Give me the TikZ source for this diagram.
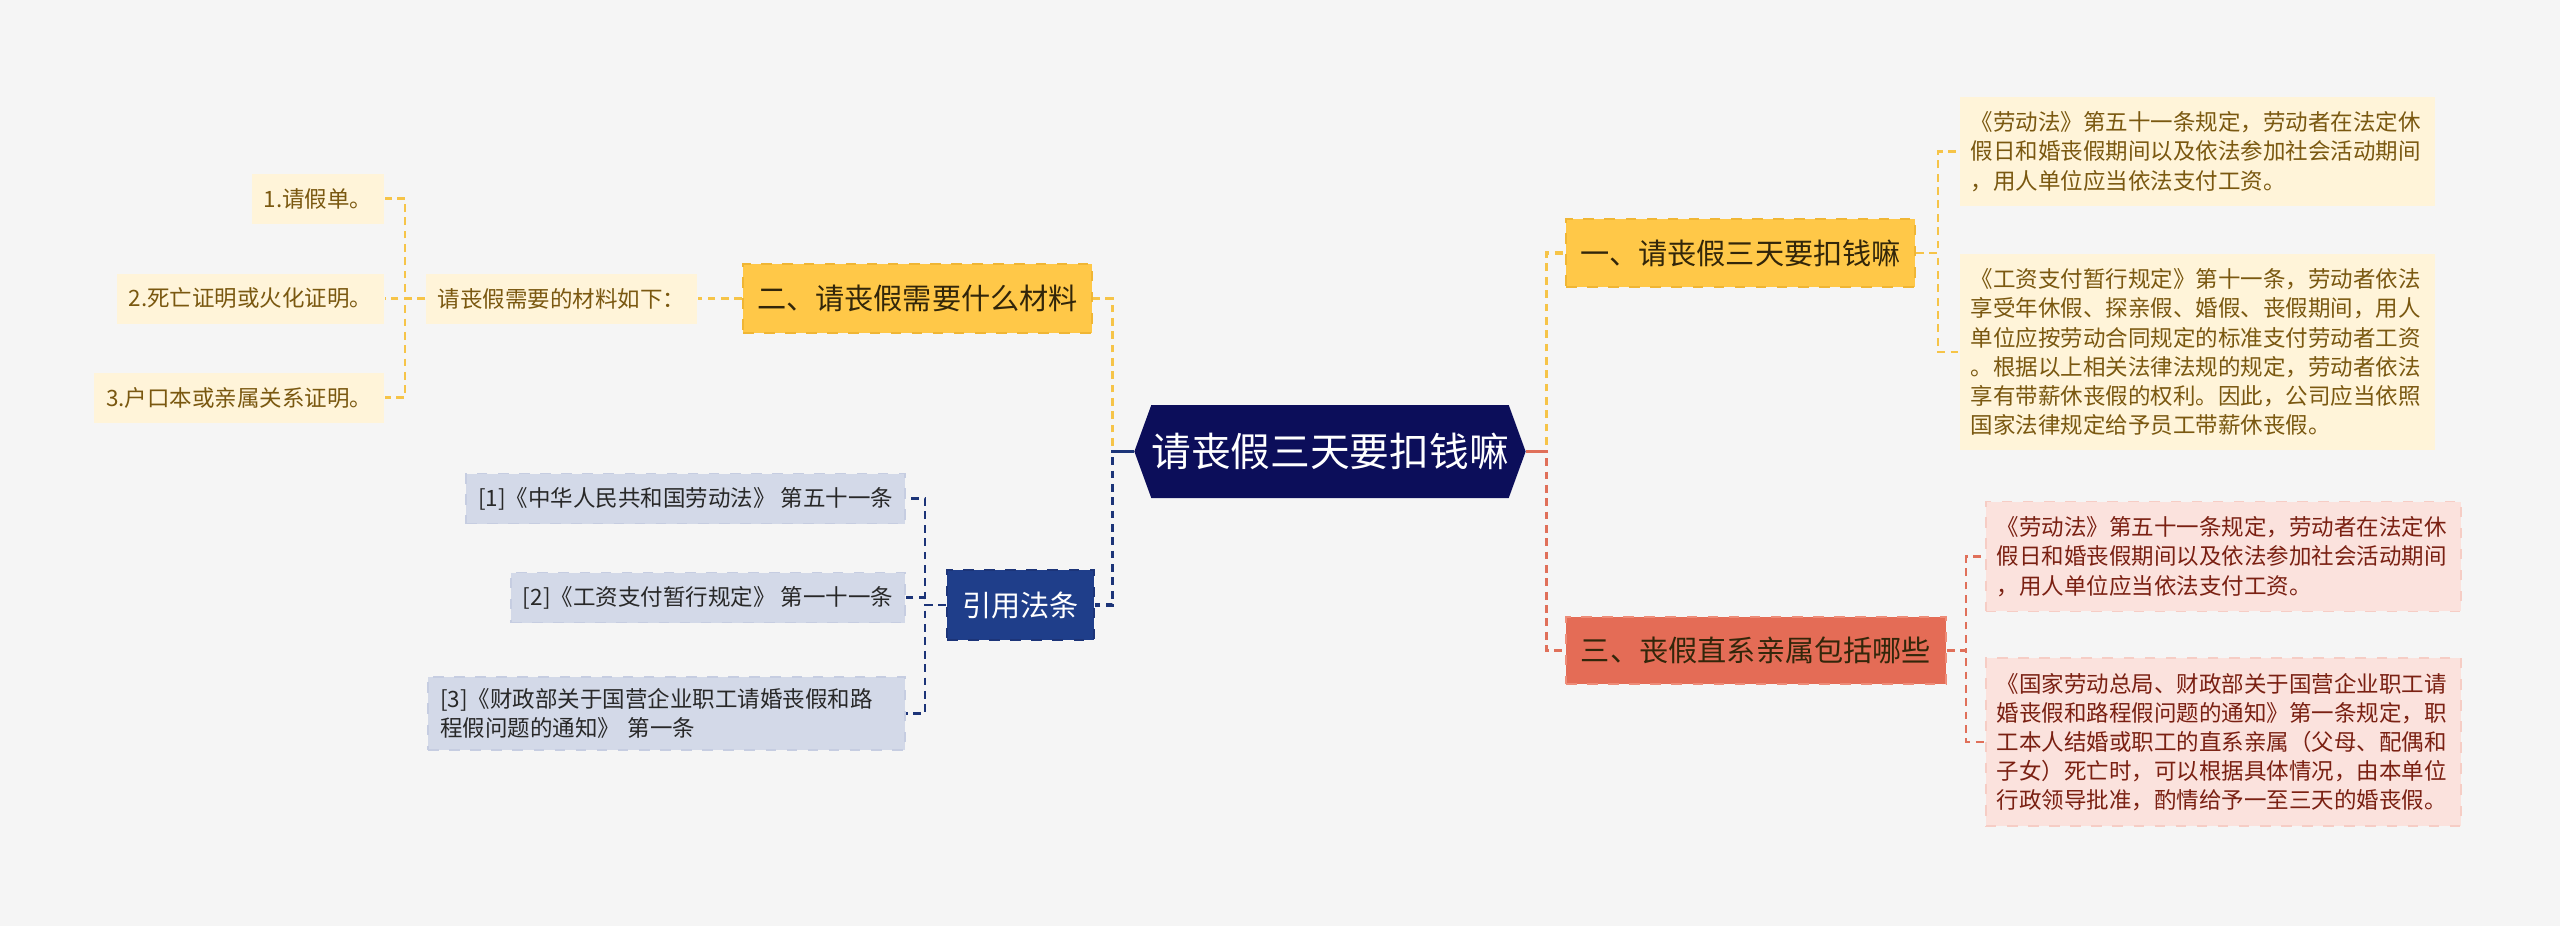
\documentclass[tikz,border=0pt]{standalone}
\usepackage{fontspec}
\setmainfont{Noto Sans CJK SC}
\usepackage{tikz}
\usetikzlibrary{shapes,positioning,calc}
\definecolor{MapCanvas}{RGB}{245,245,245}
\definecolor{MapNavy}{RGB}{12,14,90}
\definecolor{MapBlue}{RGB}{31,62,138}
\definecolor{MapBlueLine}{RGB}{28,52,120}
\definecolor{MapGold}{RGB}{255,200,72}
\definecolor{MapGoldEdge}{RGB}{240,182,52}
\definecolor{MapGoldLine}{RGB}{246,196,72}
\definecolor{MapGoldPale}{RGB}{255,244,217}
\definecolor{MapBrown}{RGB}{122,88,16}
\definecolor{MapCoral}{RGB}{228,108,86}
\definecolor{MapCoralEdge}{RGB}{238,140,120}
\definecolor{MapCoralLine}{RGB}{224,112,90}
\definecolor{MapCoralPale}{RGB}{251,226,221}
\definecolor{MapCoralRim}{RGB}{246,205,197}
\definecolor{MapMaroon}{RGB}{122,32,18}
\definecolor{MapSlate}{RGB}{211,217,232}
\definecolor{MapSlateRim}{RGB}{198,205,225}
\definecolor{MapInk}{RGB}{40,40,40}
\definecolor{MapDark}{RGB}{50,38,10}

\begin{document}
\begin{tikzpicture}
  \tikzstyle{root} = [signal, signal to=east and west, signal pointer angle=140, fill=MapNavy, text=white, minimum width=3.9cm, minimum height=0.93cm, inner sep=0pt, font=\fontsize{11.3}{13}\selectfont]
  \tikzstyle{topic} = [rectangle, draw, dashed, line width=0.6pt, inner sep=0pt, font=\fontsize{8.3}{10}\selectfont]
  \tikzstyle{goldtopic} = [topic, fill=MapGold, draw=MapGoldEdge, text=MapDark]
  \tikzstyle{coraltopic} = [topic, fill=MapCoral, draw=MapCoralEdge, text=MapDark]
  \tikzstyle{bluetopic} = [topic, fill=MapBlue, draw=MapBlueLine, text=white]
  \tikzstyle{note} = [rectangle, inner xsep=0.12cm, minimum height=0.5cm, font=\fontsize{6.4}{8.3}\selectfont]
  \tikzstyle{goldnote} = [note, fill=MapGoldPale, text=MapBrown]
  \tikzstyle{slatenote} = [note, fill=MapSlate, draw=MapSlateRim, dashed, line width=0.5pt, text=MapInk, align=left]
  \tikzstyle{para} = [rectangle, text width=4.53cm, inner xsep=0.11cm, inner ysep=0.15cm, align=left, font=\fontsize{6.4}{8.3}\selectfont]
  \tikzstyle{goldpara} = [para, fill=MapGoldPale, text=MapBrown]
  \tikzstyle{coralpara} = [para, fill=MapCoralPale, draw=MapCoralRim, dashed, line width=0.5pt, text=MapMaroon]
  \tikzstyle{link} = [line width=0.9pt, dash pattern=on 2.2pt off 1.6pt]
  \tikzstyle{goldlink} = [link, draw=MapGoldLine]
  \tikzstyle{corallink} = [link, draw=MapCoralLine]
  \tikzstyle{bluelink} = [link, draw=MapBlueLine]

  \path [use as bounding box, fill=MapCanvas] (0,0) rectangle (25.6,-9.26);

  % centre
  \node [root] (root) at (13.30,-4.515) {请丧假三天要扣钱嘛};

  % main topics
  \node [goldtopic, minimum width=3.49cm, minimum height=0.68cm] (lose) at (17.405,-2.53) {一、请丧假三天要扣钱嘛};
  \node [goldtopic, minimum width=3.49cm, minimum height=0.69cm] (stuff) at (9.175,-2.985) {二、请丧假需要什么材料};
  \node [coraltopic, minimum width=3.80cm, minimum height=0.67cm] (kin) at (17.56,-6.505) {三、丧假直系亲属包括哪些};
  \node [bluetopic, minimum width=1.47cm, minimum height=0.70cm] (cite) at (10.205,-6.05) {引用法条};

  % materials
  \node [goldnote, left=0.44cm of stuff] (need) {请丧假需要的材料如下：};
  \node [goldnote, anchor=east] (need1) at (3.85,-1.985) {1.请假单。};
  \node [goldnote, anchor=east] (need2) at (3.85,-2.985) {2.死亡证明或火化证明。};
  \node [goldnote, anchor=east] (need3) at (3.85,-3.975) {3.户口本或亲属关系证明。};

  % laws
  \node [slatenote, anchor=east] (law1) at (9.06,-4.985) {[1]《中华人民共和国劳动法》 第五十一条};
  \node [slatenote, anchor=east] (law2) at (9.06,-5.975) {[2]《工资支付暂行规定》 第一十一条};
  \node [slatenote, anchor=east, text width=4.53cm] (law3) at (9.06,-7.135) {[3]《财政部关于国营企业职工请婚丧假和路\\程假问题的通知》 第一条};

  % right hand texts
  \node [goldpara, anchor=west] (pay1) at (19.59,-1.515) {《劳动法》第五十一条规定，劳动者在法定休\\假日和婚丧假期间以及依法参加社会活动期间\\，用人单位应当依法支付工资。};
  \node [goldpara, anchor=west] (pay2) at (19.59,-3.52) {《工资支付暂行规定》第十一条，劳动者依法\\享受年休假、探亲假、婚假、丧假期间，用人\\单位应按劳动合同规定的标准支付劳动者工资\\。根据以上相关法律法规的规定，劳动者依法\\享有带薪休丧假的权利。因此，公司应当依照\\国家法律规定给予员工带薪休丧假。};
  \node [coralpara, anchor=west] (rel1) at (19.85,-5.565) {《劳动法》第五十一条规定，劳动者在法定休\\假日和婚丧假期间以及依法参加社会活动期间\\，用人单位应当依法支付工资。};
  \node [coralpara, anchor=west] (rel2) at (19.85,-7.42) {《国家劳动总局、财政部关于国营企业职工请\\婚丧假和路程假问题的通知》第一条规定，职\\工本人结婚或职工的直系亲属（父母、配偶和\\子女）死亡时，可以根据具体情况，由本单位\\行政领导批准，酌情给予一至三天的婚丧假。};

  % connectors
  \path [goldlink] (root.west) -- ++(-0.21,0) |- (stuff.east);
  \path [goldlink] (root.east) -- ++(0.20,0) |- (lose.west);
  \path [bluelink] (root.west) -- ++(-0.21,0) |- (cite.east);
  \path [corallink] (root.east) -- ++(0.20,0) |- (kin.west);
  \path [draw=MapBlueLine, line width=0.9pt] (root.west) -- ++(-0.21,0);
  \path [draw=MapCoralLine, line width=0.9pt] (root.east) -- ++(0.20,0);

  \path [goldlink] (stuff.west) -- (need.east);
  \foreach \n in {need1,need2,need3}
    \path [goldlink, line width=0.7pt] (need.west) -- ++(-0.20,0) |- (\n.east);
  \foreach \n in {law1,law2,law3}
    \path [bluelink, line width=0.7pt] (cite.west) -- ++(-0.21,0) |- (\n.east);
  \foreach \n in {pay1,pay2}
    \path [goldlink, line width=0.7pt] (lose.east) -- ++(0.22,0) |- (\n.west);
  \foreach \n in {rel1,rel2}
    \path [corallink, line width=0.7pt] (kin.east) -- ++(0.19,0) |- (\n.west);
\end{tikzpicture}
\end{document}
